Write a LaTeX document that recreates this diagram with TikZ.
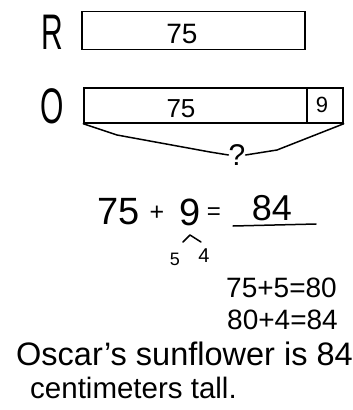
\documentclass[tikz,border=0pt]{standalone}
\usepackage{fontspec}
\setmainfont{Liberation Sans}
\begin{document}
\begin{tikzpicture}[x=1pt,y=-1pt,
  ink/.style={line width=1.5pt,line join=round,line cap=round},
  bar/.style={draw,line width=1.5pt,inner sep=0pt,minimum height=#1},
  txt/.style={inner sep=0pt},
]
\useasboundingbox (0,0) rectangle (353,410);
% labels
\node[txt,font=\fontsize{50}{50}\selectfont] (R) at (52,32) {\scalebox{0.6}[1]{R}};
\node[txt,font=\fontsize{50}{50}\selectfont] (O) at (52,106) {\scalebox{0.6}[1]{O}};
% R bar
\node[bar=38pt,minimum width=223pt] (Rbox) at (193.5,30.5) {};
\node[txt,font=\fontsize{28}{28}\selectfont] (R75) at (182,34) {75};
% O bar
\node[bar=35pt,minimum width=223pt] (Obig) at (195.5,105.5) {};
\node[bar=35pt,minimum width=36pt] (O9) at (325,105.5) {};
\node[txt,font=\fontsize{26}{26}\selectfont] (O75) at (181,109) {75};
\node[txt,font=\fontsize{22}{22}\selectfont] (n9) at (322,105) {9};
% brace
\node[txt,font=\fontsize{30}{30}\selectfont] (q) at (237,155) {?};
\draw[ink] (Obig.south west) -- (117,135) -- (210,152) -- (q.west);
\draw[ink] (q.east) -- (277,150) -- (O9.south east);
% equation
\node[txt,font=\fontsize{38}{38}\selectfont] (e75) at (119,212) {75};
\node[txt,font=\fontsize{25}{25}\selectfont] (eplus) at (157,213) {+};
\node[txt,font=\fontsize{38}{38}\selectfont] (e9) at (190,212) {9};
\node[txt,font=\fontsize{24}{24}\selectfont] (eeq) at (214,214) {=};
\node[txt,font=\fontsize{36}{36}\selectfont] (e84) at (272,208) {84};
\coordinate (ul1) at (233,226);
\coordinate (ul2) at (316,224);
\draw[ink] (ul1) -- (ul2);
% number bond
\node[txt,font=\fontsize{18}{18}\selectfont] (b5) at (175,259) {5};
\node[txt,font=\fontsize{20}{20}\selectfont] (b4) at (204,256) {4};
\coordinate (cL) at (183,242);
\coordinate (cT) at (190,235);
\coordinate (cR) at (201,242);
\draw[ink] (cL) -- (cT) -- (cR);
% steps
\node[txt,anchor=west,font=\fontsize{28}{28}\selectfont] (s1) at (226,288) {75+5=80};
\node[txt,anchor=west,font=\fontsize{28}{28}\selectfont] (s2) at (227,320) {80+4=84};
% sentence
\node[txt,anchor=base west,font=\fontsize{32.5}{32.5}\selectfont] (l1) at (16,365) {Oscar's sunflower is 84};
\node[txt,anchor=base west,font=\fontsize{29.5}{29.5}\selectfont] (l2) at (30,398) {centimeters tall.};
\end{tikzpicture}
\end{document}
